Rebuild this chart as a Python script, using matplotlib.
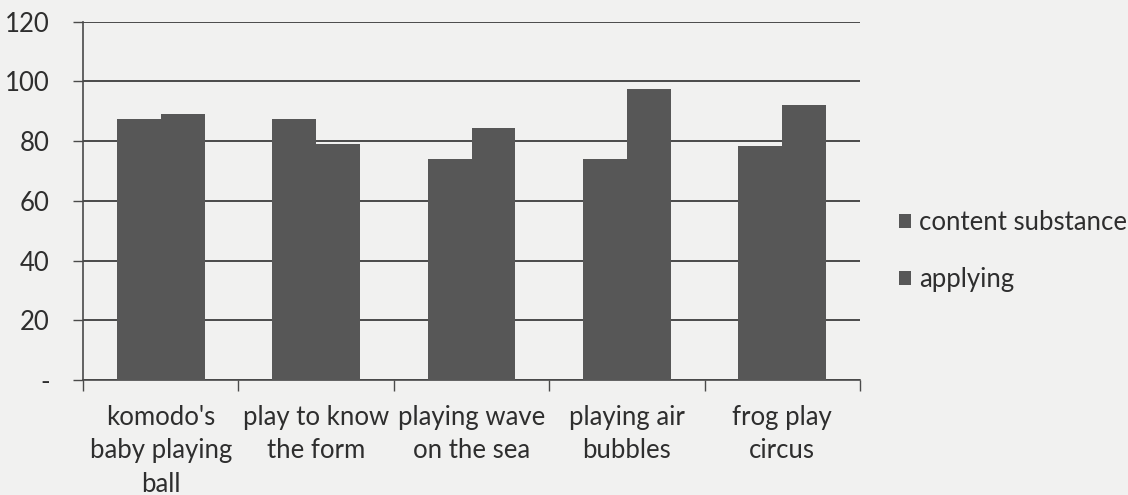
import matplotlib
matplotlib.use("Agg")
import matplotlib.pyplot as plt
import numpy as np

categories = ["komodo's\nbaby playing\nball", "play to know\nthe form",
              "playing wave\non the sea", "playing air\nbubbles", "frog play\ncircus"]
content_substance = [87.5, 87.5, 74, 74, 78.5]
applying = [89, 79, 84.5, 97.5, 92]
y_ticks = [0, 20, 40, 60, 80, 100, 120]
y_labels = ["-", "20", "40", "60", "80", "100", "120"]

plt.rcParams["font.family"] = ["Lato", "DejaVu Sans"]

bg = "#f1f1f0"
bar_color = "#575757"
grid_color = "#4a4a4a"
text_color = "#2e2e2e"

fig = plt.figure(figsize=(11.28, 4.95), dpi=100, facecolor=bg)
ax = fig.add_axes([0.0736, 0.2323, 0.6888, 0.7237])
ax.set_facecolor(bg)

x = np.arange(len(categories))
w = 0.283
ax.bar(x - w / 2, content_substance, w, color=bar_color, label="content substance", zorder=3)
ax.bar(x + w / 2, applying, w, color=bar_color, label="applying", zorder=3)

ax.set_xlim(-0.5, len(categories) - 0.5)
ax.set_ylim(0, 120)
ax.set_yticks(y_ticks)
ax.set_yticklabels(y_labels, fontsize=18.5, color=text_color)
ax.tick_params(axis="y", length=7, width=1, color=grid_color, pad=17)
ax.yaxis.grid(True, color=grid_color, lw=1.4, zorder=1)

ax.set_xticks(x)
ax.set_xticklabels(categories, fontsize=18.5, color=text_color, linespacing=1.42)
ax.tick_params(axis="x", which="major", length=0, pad=18)
ax.set_xticks(np.arange(-0.5, len(categories)), minor=True)
ax.tick_params(axis="x", which="minor", length=8, width=1, color=grid_color)

for s in ["top", "right"]:
    ax.spines[s].set_visible(False)
for s in ["left", "bottom"]:
    ax.spines[s].set_color(grid_color)
    ax.spines[s].set_linewidth(1.2)

ax.legend(loc="center left", bbox_to_anchor=(1.02, 0.36), frameon=False,
          fontsize=18.5, handlelength=0.5, handleheight=0.5, handletextpad=0.3,
          labelspacing=1.25, labelcolor=text_color)

fig.savefig("out.png", dpi=100, facecolor=bg)
